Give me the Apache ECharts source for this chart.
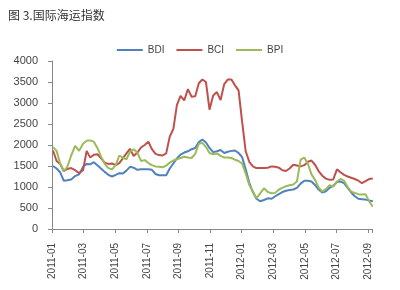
<!DOCTYPE html>
<html><head><meta charset="utf-8">
<script src="https://cdn.jsdelivr.net/npm/echarts@6/dist/echarts.min.js"></script>
<style>html,body{margin:0;padding:0;background:#fff}#c{width:400px;height:290px}</style>
</head><body><div id="c"></div>
<script>
var title = '图 3.国际海运指数';
var seriesNames = ['BDI', 'BCI', 'BPI'];
var tickLabels = ['2011-01','2011-03','2011-05','2011-07','2011-09','2011-11','2012-01','2012-03','2012-05','2012-07','2012-09'];
var startDate = '2011-01-03';
var bdi = [1500,1440,1350,1150,1160,1180,1260,1300,1480,1550,1540,1590,1520,1440,1360,1290,1250,1290,1330,1320,
  1390,1480,1460,1410,1420,1420,1420,1410,1310,1280,1280,1280,1440,1560,1680,1770,1820,1850,1900,1930,
  2070,2130,2060,1930,1830,1850,1880,1810,1840,1860,1870,1810,1710,1420,1100,880,720,660,690,730,
  720,780,830,880,910,930,940,980,1080,1150,1150,1130,1050,940,870,900,980,1030,1120,1130,
  1090,980,870,780,720,710,700,680,660];
var bci = [1870,1620,1550,1380,1430,1450,1400,1330,1400,1860,1700,1770,1780,1690,1580,1550,1560,1520,1570,1680,
  1800,1910,1740,1820,1940,2000,2080,1900,1790,1760,1750,1800,2200,2380,2950,3170,3060,3330,3150,3160,
  3470,3560,3500,2840,3180,3260,3070,3450,3560,3560,3420,3300,2550,1850,1600,1490,1450,1450,1450,1460,
  1490,1480,1460,1400,1380,1440,1530,1510,1490,1520,1600,1630,1530,1380,1270,1200,1170,1180,1420,1350,
  1290,1250,1220,1190,1150,1090,1140,1190,1200];
var bpi = [1950,1860,1560,1380,1480,1750,1980,1860,2030,2100,2110,2080,1930,1730,1550,1450,1420,1520,1750,1700,
  1660,1840,1900,1820,1620,1640,1570,1520,1490,1480,1470,1510,1580,1630,1660,1690,1720,1700,1690,1790,
  2030,2050,1950,1810,1780,1800,1740,1700,1700,1690,1650,1620,1560,1320,1050,900,730,850,970,880,
  850,860,940,980,1020,1040,1060,1130,1650,1700,1550,1300,1170,990,890,950,1040,1010,1130,1190,
  1150,1000,890,860,830,820,830,660,530];
var colors = ['#4F81BD', '#C0504D', '#9BBB59'];

// weekly dates -> month position since 2011-01
function monthPos(d){
  var y = d.getUTCFullYear(), m = d.getUTCMonth(), day = d.getUTCDate();
  var dim = new Date(Date.UTC(y, m + 1, 0)).getUTCDate();
  return (y - 2011) * 12 + m + (day - 1) / dim;
}
var t0 = Date.parse(startDate + 'T00:00:00Z');
function build(vals){
  return vals.map(function(v, i){
    return [monthPos(new Date(t0 + i * 7 * 86400000)), v];
  });
}
var all = [bdi, bci, bpi];
var chart = echarts.init(document.getElementById('c'), null, {renderer: 'canvas'});
chart.setOption({
  animation: false,
  backgroundColor: '#fff',
  title: {text: title, left: 3, top: 4, textStyle: {fontSize: 12, fontWeight: 'normal', color: '#333', fontFamily: 'Noto Sans CJK SC'}},
  legend: {
    top: 40, left: 'center', icon: 'rect', itemWidth: 26, itemHeight: 2, itemGap: 12,
    textStyle: {fontSize: 10, color: '#444', fontFamily: 'Liberation Sans'},
    data: seriesNames
  },
  grid: {left: 52, right: 28, top: 61, bottom: 61},
  xAxis: {
    type: 'value', min: 0, max: 20.25, interval: 2,
    axisLine: {lineStyle: {color: '#888'}},
    axisTick: {show: true, length: 4, inside: false, lineStyle: {color: '#888'}},
    splitLine: {show: false},
    axisLabel: {
      rotate: 90, margin: 14, fontSize: 10, color: '#444', fontFamily: 'Liberation Sans',
      showMaxLabel: true, hideOverlap: false,
      formatter: function(v){
        var k = Math.round(v / 2);
        if (Math.abs(v - k * 2) > 0.01) return '';
        return tickLabels[k] || '';
      }
    }
  },
  yAxis: {
    type: 'value', min: 0, max: 4000, interval: 500,
    axisLine: {show: true, lineStyle: {color: '#888'}},
    axisTick: {show: true, length: 4, lineStyle: {color: '#888'}},
    splitLine: {show: false},
    axisLabel: {margin: 14, fontSize: 11, color: '#444', fontFamily: 'Liberation Sans',
      formatter: function(v){ return String(v); }}
  },
  series: seriesNames.map(function(n, k){
    return {name: n, type: 'line', symbol: 'none', data: build(all[k]),
      lineStyle: {width: 2, color: colors[k]}, itemStyle: {color: colors[k]}};
  })
});
</script></body></html>
